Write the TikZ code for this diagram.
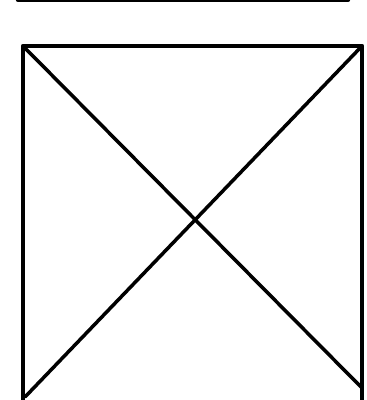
\documentclass[tikz,border=0pt]{standalone}
\begin{document}
\begin{tikzpicture}[x=0.01cm, y=-0.01cm, line cap=round, line join=round]
  \useasboundingbox (0,0) rectangle (366,400);
  \coordinate (TL) at (23,46);
  \coordinate (TR) at (362,46);
  \coordinate (BR) at (362,400);
  \coordinate (BL) at (23,400);
  \coordinate (RL) at (18,0);
  \coordinate (RR) at (348,0);
  \draw[line width=1.2pt] (RL)--(RR);
  \draw[line width=1.3pt] (BL)--(TL)--(TR)--(BR);
  \draw[line width=1pt] (TL)--(362,388);
  \draw[line width=1pt] (25,397)--(TR);
\end{tikzpicture}
\end{document}
